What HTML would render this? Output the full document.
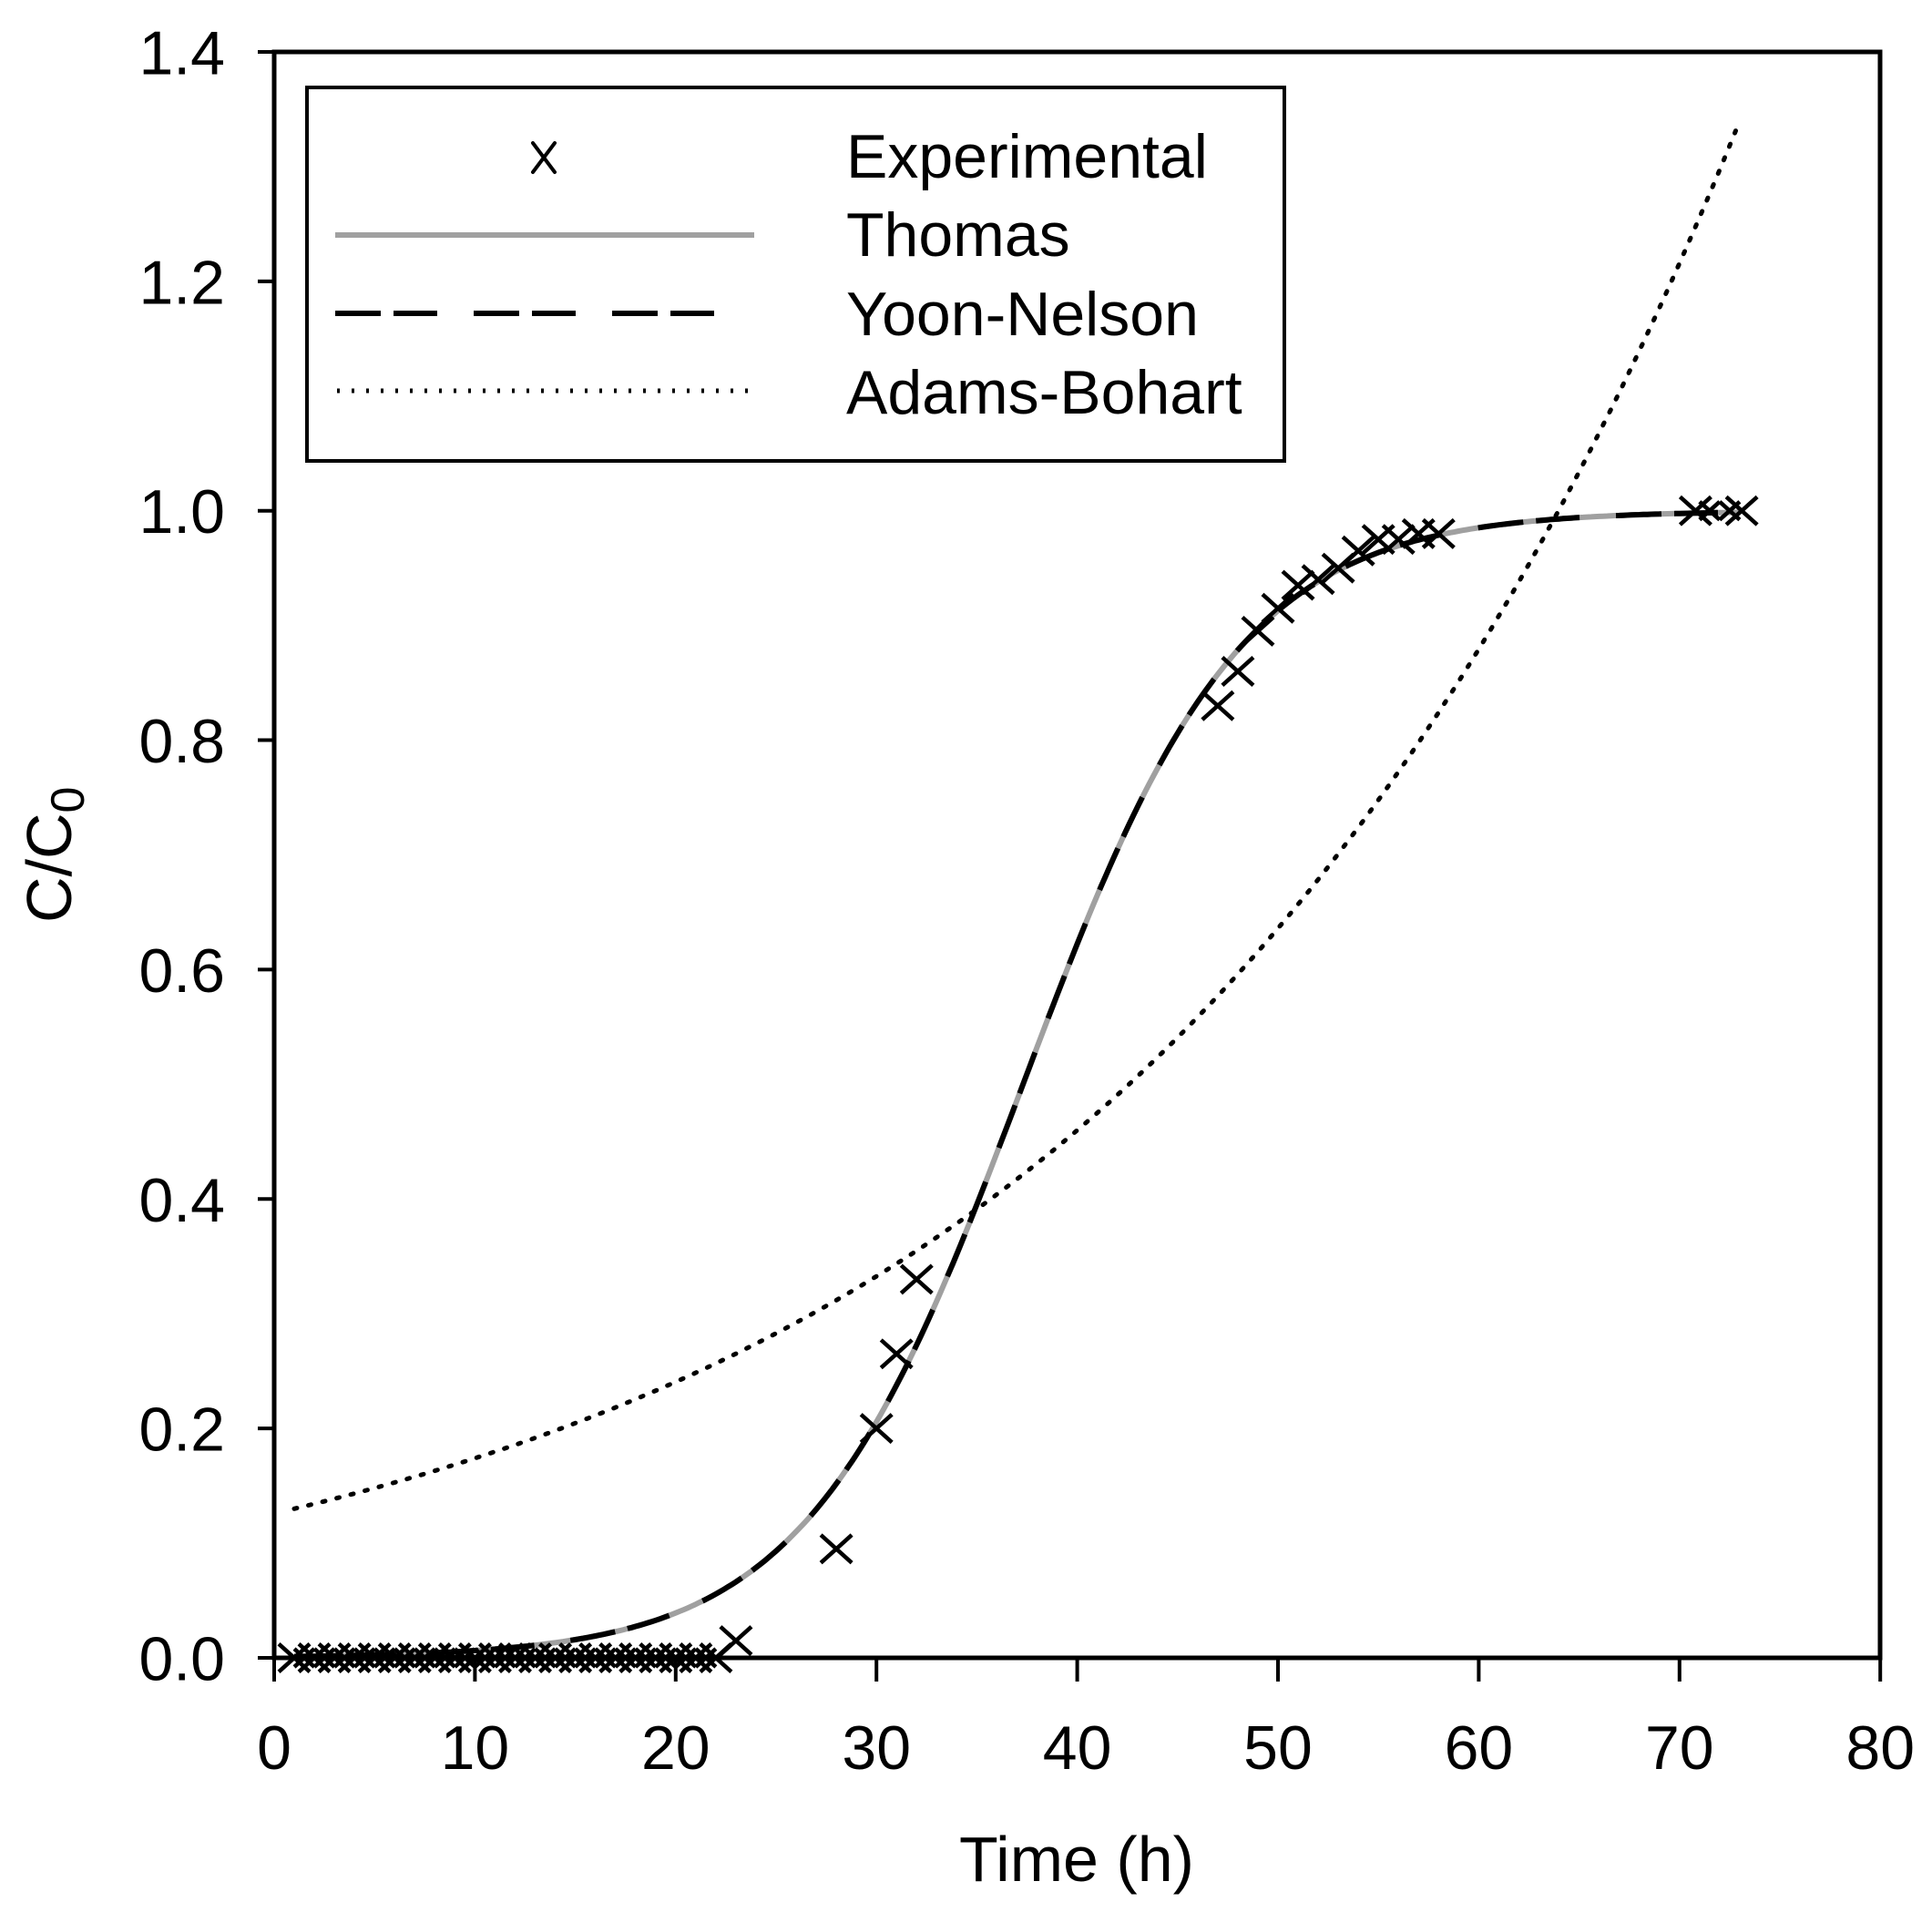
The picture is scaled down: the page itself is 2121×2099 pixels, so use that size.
<!DOCTYPE html>
<html><head><meta charset="utf-8"><style>
html,body{margin:0;padding:0;background:#fff;}
svg{display:block;}
text{font-family:"Liberation Sans",Arial,sans-serif;fill:#000;}
</style></head><body>
<svg id="s" width="2121" height="2099" viewBox="0 0 2121 2099" xmlns="http://www.w3.org/2000/svg">
<rect width="2121" height="2099" fill="#fff"/>
<g id="g"></g>
<rect x="301" y="57" width="1763" height="1763" fill="none" stroke="#000" stroke-width="5"/>
<rect x="337" y="96" width="1073" height="410" fill="#fff" stroke="#000" stroke-width="4"/>
<g stroke="#000" stroke-width="4" stroke-linecap="round">
<line x1="585" y1="157" x2="609" y2="189"/><line x1="609" y1="157" x2="585" y2="189"/>
</g>
<line x1="368" y1="258" x2="828" y2="258" stroke="#a0a0a0" stroke-width="6"/>
<line x1="368" y1="344" x2="790" y2="344" stroke="#000" stroke-width="6" stroke-dasharray="50 14 48 40"/>
<line x1="370" y1="429" x2="822" y2="429" stroke="#000" stroke-width="5" stroke-dasharray="3 13"/>
<text x="929" y="195" font-size="68">Experimental</text>
<text x="929" y="281" font-size="68">Thomas</text>
<text x="929" y="368" font-size="68">Yoon-Nelson</text>
<text x="929" y="454" font-size="68">Adams-Bohart</text>
<text x="1182" y="2065" font-size="70" text-anchor="middle">Time (h)</text>
<text transform="translate(78,1013) rotate(-90)" font-size="70">C/C<tspan font-size="52" dy="14">0</tspan></text>
</svg>
<script>
(function(){
var NS="http://www.w3.org/2000/svg",g=document.getElementById('g');
function X(t){return 301+t*22.04;}function Y(v){return 1820-v*1259.3;}
function el(n,a){var e=document.createElementNS(NS,n);for(var k in a)e.setAttribute(k,a[k]);g.appendChild(e);return e;}
function tx(x,y,s,anc){var e=el('text',{x:x,y:y,'font-size':68,'text-anchor':anc});e.textContent=s;}
for(var i=0;i<=8;i++){var x=X(i*10);el('line',{x1:x,y1:1820,x2:x,y2:1846,stroke:'#000','stroke-width':4});tx(x,1942,String(i*10),'middle');}
for(var j=0;j<=7;j++){var v=j*0.2,y=Y(v);el('line',{x1:283,y1:y,x2:301,y2:y,stroke:'#000','stroke-width':4});tx(247,y+24.5,v.toFixed(1),'end');}
var p1=[],p2=[];
for(var t=1;t<=73.2;t+=0.2){var v=1/(1+Math.exp(0.185*(37.3-t)));p1.push(X(t).toFixed(1)+','+Y(v).toFixed(1));}
for(var t=1;t<=72.95;t+=0.2){var v=0.13*Math.exp(0.0324*(t-1));p2.push(X(t).toFixed(1)+','+Y(v).toFixed(1));}
el('polyline',{points:p1.join(' '),fill:'none',stroke:'#a0a0a0','stroke-width':6});
el('polyline',{points:p1.join(' '),fill:'none',stroke:'#000','stroke-width':6,'stroke-dasharray':'50 14 48 40'});
el('polyline',{points:p2.join(' '),fill:'none',stroke:'#000','stroke-width':5,'stroke-dasharray':'3 13','stroke-linecap':'round'});
function cross(t,v,s){var x=X(t),y=Y(v);el('path',{d:'M'+(x-s)+','+(y-s*0.9)+'L'+(x+s)+','+(y+s*0.9)+'M'+(x+s)+','+(y-s*0.9)+'L'+(x-s)+','+(y+s*0.9),stroke:'#000','stroke-width':4.5,fill:'none'});}
for(var t=1;t<=22;t++){cross(t,0,17);if(t<22)cross(t+0.5,0,11);}
var pts=[[23,0.015],[28,0.095],[30,0.2],[31,0.265],[32,0.33],[47,0.83],[48,0.86],[49,0.895],[50,0.915],[51,0.935],[52,0.94],[53,0.95],[54,0.965],[55,0.975],[56,0.975],[57,0.98],[58,0.98],[70.8,1.0],[73.1,1.0]];
pts.forEach(function(p){cross(p[0],p[1],17);});
cross(71.5,1.0,11);cross(72.5,1.0,11);
})();
</script>
</body></html>
